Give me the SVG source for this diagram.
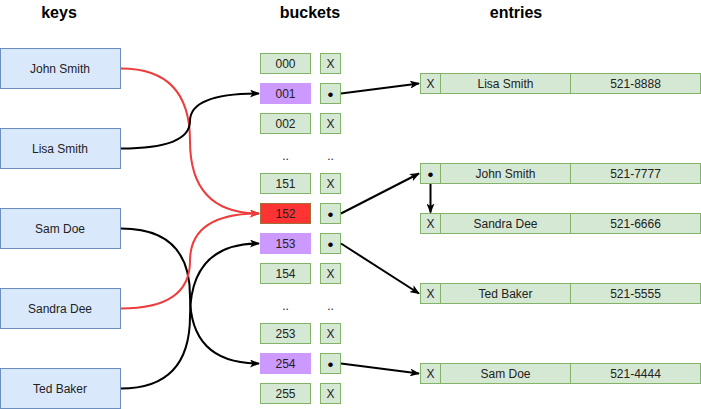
<svg xmlns="http://www.w3.org/2000/svg" width="701" height="409" viewBox="0 0 701 409">
<style>
text{font-family:"Liberation Sans",Arial,sans-serif;font-size:12px;fill:#222;text-anchor:middle;dominant-baseline:central}
.title{font-size:16px;font-weight:bold;fill:#000}
.dot{font-size:17px;fill:#000}
.key{fill:#dae8fc;stroke:#6c8ebf;stroke-width:1}
.g{fill:#d5e8d4;stroke:#82b366;stroke-width:1}
.p{fill:#cc99ff;stroke:#cc99ff;stroke-width:1}
.r{fill:#ff3333;stroke:#a0703a;stroke-width:1}
.e{fill:none;stroke:#000;stroke-width:2}
.red{stroke:#ee3c3c}
</style>
<defs>
<marker id="ab" viewBox="0 0 10 8" refX="9" refY="4" markerWidth="10" markerHeight="8" markerUnits="userSpaceOnUse" orient="auto"><path d="M0,0 L10,4 L0,8 L2.5,4 Z" fill="#000"/></marker>
<marker id="ar" viewBox="0 0 10 8" refX="9" refY="4" markerWidth="10" markerHeight="8" markerUnits="userSpaceOnUse" orient="auto"><path d="M0,0 L10,4 L0,8 L2.5,4 Z" fill="#ee3c3c"/></marker>
</defs>
<rect width="701" height="409" fill="#fff"/>
<text class="title" x="59" y="12">keys</text>
<text class="title" x="310" y="12">buckets</text>
<text class="title" x="516" y="12">entries</text>

<g id="key-john"><rect class="key" x="0.5" y="48.5" width="120" height="40"/><text x="60" y="69">John Smith</text></g>
<g id="key-lisa"><rect class="key" x="0.5" y="128.5" width="120" height="40"/><text x="60" y="149">Lisa Smith</text></g>
<g id="key-sam"><rect class="key" x="0.5" y="208.5" width="120" height="40"/><text x="60" y="229">Sam Doe</text></g>
<g id="key-sandra"><rect class="key" x="0.5" y="288.5" width="120" height="40"/><text x="60" y="309">Sandra Dee</text></g>
<g id="key-ted"><rect class="key" x="0.5" y="368.5" width="120" height="40"/><text x="60" y="389">Ted Baker</text></g>

<g id="b000"><rect class="g" x="260.5" y="53.5" width="50" height="20"/><text x="285.5" y="64">000</text><rect class="g" x="320.5" y="53.5" width="20" height="20"/><text x="330.5" y="64">X</text></g>
<g id="b001"><rect class="p" x="260.5" y="83.5" width="50" height="20"/><text x="285.5" y="94">001</text><rect class="g" x="320.5" y="83.5" width="20" height="20"/><text class="dot" x="330.5" y="94">•</text></g>
<g id="b002"><rect class="g" x="260.5" y="113.5" width="50" height="20"/><text x="285.5" y="124">002</text><rect class="g" x="320.5" y="113.5" width="20" height="20"/><text x="330.5" y="124">X</text></g>
<g id="gap1"><text x="285.5" y="156">..</text><text x="330.5" y="156">..</text></g>
<g id="b151"><rect class="g" x="260.5" y="173.5" width="50" height="20"/><text x="285.5" y="184">151</text><rect class="g" x="320.5" y="173.5" width="20" height="20"/><text x="330.5" y="184">X</text></g>
<g id="b152"><rect class="r" x="260.5" y="203.5" width="50" height="20"/><text x="285.5" y="214">152</text><rect class="g" x="320.5" y="203.5" width="20" height="20"/><text class="dot" x="330.5" y="214">•</text></g>
<g id="b153"><rect class="p" x="260.5" y="233.5" width="50" height="20"/><text x="285.5" y="244">153</text><rect class="g" x="320.5" y="233.5" width="20" height="20"/><text class="dot" x="330.5" y="244">•</text></g>
<g id="b154"><rect class="g" x="260.5" y="263.5" width="50" height="20"/><text x="285.5" y="274">154</text><rect class="g" x="320.5" y="263.5" width="20" height="20"/><text x="330.5" y="274">X</text></g>
<g id="gap2"><text x="285.5" y="306">..</text><text x="330.5" y="306">..</text></g>
<g id="b253"><rect class="g" x="260.5" y="323.5" width="50" height="20"/><text x="285.5" y="334">253</text><rect class="g" x="320.5" y="323.5" width="20" height="20"/><text x="330.5" y="334">X</text></g>
<g id="b254"><rect class="p" x="260.5" y="353.5" width="50" height="20"/><text x="285.5" y="364">254</text><rect class="g" x="320.5" y="353.5" width="20" height="20"/><text class="dot" x="330.5" y="364">•</text></g>
<g id="b255"><rect class="g" x="260.5" y="383.5" width="50" height="20"/><text x="285.5" y="394">255</text><rect class="g" x="320.5" y="383.5" width="20" height="20"/><text x="330.5" y="394">X</text></g>

<g id="e-lisa"><rect class="g" x="420.5" y="73.5" width="20" height="20"/><text x="430.5" y="84">X</text><rect class="g" x="440.5" y="73.5" width="130" height="20"/><text x="505.5" y="84">Lisa Smith</text><rect class="g" x="570.5" y="73.5" width="130" height="20"/><text x="635.5" y="84">521-8888</text></g>
<g id="e-john"><rect class="g" x="420.5" y="163.5" width="20" height="20"/><text class="dot" x="430.5" y="174">•</text><rect class="g" x="440.5" y="163.5" width="130" height="20"/><text x="505.5" y="174">John Smith</text><rect class="g" x="570.5" y="163.5" width="130" height="20"/><text x="635.5" y="174">521-7777</text></g>
<g id="e-sandra"><rect class="g" x="420.5" y="213.5" width="20" height="20"/><text x="430.5" y="224">X</text><rect class="g" x="440.5" y="213.5" width="130" height="20"/><text x="505.5" y="224">Sandra Dee</text><rect class="g" x="570.5" y="213.5" width="130" height="20"/><text x="635.5" y="224">521-6666</text></g>
<g id="e-ted"><rect class="g" x="420.5" y="283.5" width="20" height="20"/><text x="430.5" y="294">X</text><rect class="g" x="440.5" y="283.5" width="130" height="20"/><text x="505.5" y="294">Ted Baker</text><rect class="g" x="570.5" y="283.5" width="130" height="20"/><text x="635.5" y="294">521-5555</text></g>
<g id="e-sam"><rect class="g" x="420.5" y="363.5" width="20" height="20"/><text x="430.5" y="374">X</text><rect class="g" x="440.5" y="363.5" width="130" height="20"/><text x="505.5" y="374">Sam Doe</text><rect class="g" x="570.5" y="363.5" width="130" height="20"/><text x="635.5" y="374">521-4444</text></g>

<g id="connectors">
<path class="e red" marker-end="url(#ar)" d="M121,68.5 Q190,68.5 190,141 Q190,213.5 259,213.5"/>
<path class="e" marker-end="url(#ab)" d="M121,148.5 Q190,148.5 190,121 Q190,93.5 259,93.5"/>
<path class="e" marker-end="url(#ab)" d="M121,228.5 Q190,228.5 190,296 Q190,363.5 259,363.5"/>
<path class="e red" marker-end="url(#ar)" d="M121,308.5 Q190,308.5 190,261 Q190,213.5 259,213.5"/>
<path class="e" marker-end="url(#ab)" d="M121,388.5 Q190,388.5 190,316 Q190,243.5 259,243.5"/>
<path class="e" marker-end="url(#ab)" d="M341,93.5 L419,83.5"/>
<path class="e" marker-end="url(#ab)" d="M341,213.5 L419,173.5"/>
<path class="e" marker-end="url(#ab)" d="M341,243.5 L419,293.5"/>
<path class="e" marker-end="url(#ab)" d="M341,363.5 L419,373.5"/>
<path class="e" marker-end="url(#ab)" d="M430.5,184 L430.5,212.5"/>
</g>
</svg>
